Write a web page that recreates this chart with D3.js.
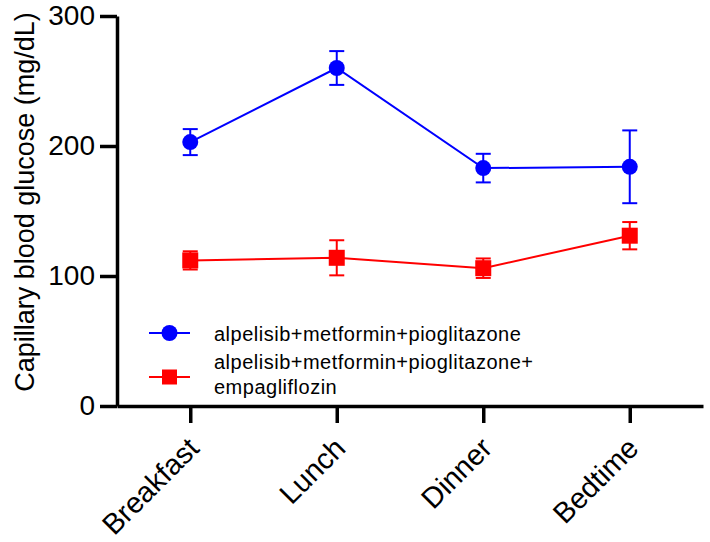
<!DOCTYPE html>
<html>
<head>
<meta charset="utf-8">
<script src="https://cdn.jsdelivr.net/npm/d3@7"></script>
<style>
  html, body { margin: 0; padding: 0; background: #fff; }
  svg { display: block; }
  text { font-family: Arial, "Liberation Sans", Helvetica, sans-serif; }
</style>
</head>
<body>
<svg id="chart" width="710" height="542"></svg>
<script>
const categories = ["Breakfast", "Lunch", "Dinner", "Bedtime"];
const seriesNames = ["alpelisib+metformin+pioglitazone", "alpelisib+metformin+pioglitazone+\nempagliflozin"];
const blueMean = [203, 260, 183, 184];
const blueErr  = [10, 13, 11, 28];
const redMean  = [112, 114, 106, 131];
const redErr   = [7, 13.5, 7.5, 10.5];
const yTicks = [0, 100, 200, 300];

const svg = d3.select("#chart");
const x = d3.scalePoint().domain(categories).range([117, 703]).padding(0.5);
const y = d3.scaleLinear().domain([0, 300]).range([406, 16]);

const axisW = 3.5;

// Y axis
const gy = svg.append("g").attr("transform", "translate(117,0)")
  .call(d3.axisLeft(y).tickValues(yTicks).tickSize(17).tickPadding(5).tickSizeOuter(0));
gy.select(".domain").attr("stroke", "#000").attr("stroke-width", axisW);
gy.selectAll(".tick line").attr("stroke", "#000").attr("stroke-width", axisW);
gy.selectAll(".tick text").attr("font-size", 28).attr("fill", "#000")
  .style("font-family", "Arial, 'Liberation Sans', sans-serif");

// X axis
const gx = svg.append("g").attr("transform", "translate(0,406)")
  .call(d3.axisBottom(x).tickSize(17).tickSizeOuter(0).tickFormat(d => d));
gx.select(".domain").attr("stroke", "#000").attr("stroke-width", axisW);
gx.selectAll(".tick line").attr("stroke", "#000").attr("stroke-width", axisW);
gx.selectAll(".tick text")
  .attr("font-size", 29).attr("fill", "#000")
  .style("font-family", "Arial, 'Liberation Sans', sans-serif")
  .attr("text-anchor", "end")
  .attr("dy", null)
  .attr("y", null)
  .attr("transform", "translate(10,44) rotate(-45)");

// Y title
svg.append("text")
  .attr("transform", "translate(34,202) rotate(-90)")
  .attr("text-anchor", "middle")
  .attr("font-size", 27)
  .attr("fill", "#000")
  .text("Capillary blood glucose (mg/dL)");

const series = [
  { mean: blueMean, err: blueErr, color: "#0000ff", shape: "circle" },
  { mean: redMean, err: redErr, color: "#ff0000", shape: "square" }
];

const line = d3.line().x((d, i) => x(categories[i])).y(d => y(d));
const cap = 7.5;

series.forEach(s => {
  const g = svg.append("g");
  g.append("path").datum(s.mean).attr("d", line)
    .attr("fill", "none").attr("stroke", s.color).attr("stroke-width", 2);
  const pts = s.mean.map((m, i) => ({ cat: categories[i], m, e: s.err[i] }));
  const eb = g.selectAll(".eb").data(pts).enter().append("g");
  eb.append("line")
    .attr("x1", d => x(d.cat)).attr("x2", d => x(d.cat))
    .attr("y1", d => y(d.m + d.e)).attr("y2", d => y(d.m - d.e))
    .attr("stroke", s.color).attr("stroke-width", 2);
  [1, -1].forEach(sg => {
    eb.append("line")
      .attr("x1", d => x(d.cat) - cap).attr("x2", d => x(d.cat) + cap)
      .attr("y1", d => y(d.m + sg * d.e)).attr("y2", d => y(d.m + sg * d.e))
      .attr("stroke", s.color).attr("stroke-width", 2);
  });
  if (s.shape === "circle") {
    g.selectAll(".pt").data(pts).enter().append("circle")
      .attr("cx", d => x(d.cat)).attr("cy", d => y(d.m)).attr("r", 8)
      .attr("fill", s.color);
  } else {
    g.selectAll(".pt").data(pts).enter().append("rect")
      .attr("x", d => x(d.cat) - 8).attr("y", d => y(d.m) - 8)
      .attr("width", 16).attr("height", 16)
      .attr("fill", s.color);
  }
});

// Legend
const leg = svg.append("g");
const legItems = [
  { y: 333, color: "#0000ff", shape: "circle", lines: [seriesNames[0]], ty: [341] },
  { y: 377, color: "#ff0000", shape: "square", lines: seriesNames[1].split("\n"), ty: [369, 394] }
];
legItems.forEach(it => {
  leg.append("line").attr("x1", 149).attr("x2", 190).attr("y1", it.y).attr("y2", it.y)
    .attr("stroke", it.color).attr("stroke-width", 2);
  if (it.shape === "circle") {
    leg.append("circle").attr("cx", 169.5).attr("cy", it.y).attr("r", 8).attr("fill", it.color);
  } else {
    leg.append("rect").attr("x", 162).attr("y", it.y - 7.5).attr("width", 15).attr("height", 15).attr("fill", it.color);
  }
  it.lines.forEach((t, k) => {
    leg.append("text").attr("x", 214).attr("y", it.ty[k])
      .attr("font-size", 20).attr("letter-spacing", 0.5).attr("fill", "#000").text(t);
  });
});
</script>
</body>
</html>
